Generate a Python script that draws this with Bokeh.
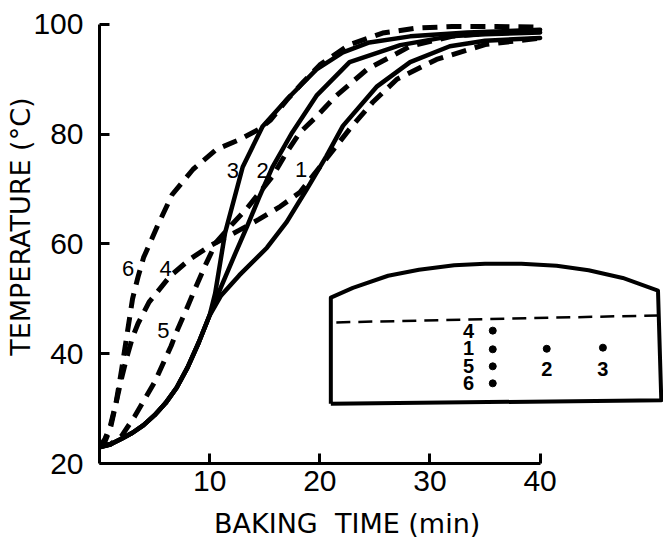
from bokeh.plotting import figure
from bokeh.models import Range1d, FixedTicker, Label
from bokeh.embed import file_html
from bokeh.resources import INLINE

# Baking time (min) and temperature (degC) at six positions in the loaf
time_1 = [0, 1, 2, 3, 4, 5, 6, 7, 8, 9, 10, 11, 12.7, 15.2, 17, 18.8, 20.6, 22.1, 25.2, 28.2, 31.8, 35, 40]
temp_1 = [23, 23.5, 24.5, 25.6, 27, 28.8, 31, 33.8, 37.5, 42, 47, 50.5, 54.3, 59.3, 64, 69.9, 76, 81.5, 88.7, 93.1, 96, 97, 97.5]

time_2 = [0, 1, 2, 3, 4, 5, 6, 7, 8, 9, 10, 11, 12.1, 13.4, 14.5, 15.7, 17.5, 19.7, 22.7, 27.3, 31.8, 35, 40]
temp_2 = [23, 23.5, 24.5, 25.6, 27, 28.8, 31, 33.8, 37.5, 42, 47, 52, 57.2, 63.2, 68.5, 74, 80.3, 87, 93.1, 96.2, 97.8, 98.2, 98.5]

time_3 = [0, 1, 2, 3, 4, 5, 6, 7, 8, 9, 10, 10.5, 11.4, 13, 14.8, 17, 19.7, 22.1, 24.5, 28.2, 33.4, 40]
temp_3 = [23, 23.5, 24.5, 25.6, 27, 28.8, 31, 33.8, 37.5, 42, 47, 51, 62, 74, 81.4, 86.3, 91.8, 94.9, 96.7, 97.8, 98.5, 99]

time_4 = [0, 0.5, 1, 1.5, 2, 2.5, 3, 3.5, 4.5, 6.4, 8.2, 10, 12.7, 14.5, 16.4, 18.2, 20, 22.7, 24.8, 27, 30.6, 35, 40]
temp_4 = [23, 24.5, 27, 31, 35.5, 39.5, 43, 45.5, 49.4, 54.1, 57.2, 59.6, 62.5, 64.5, 66.8, 69.4, 74, 80.9, 85.8, 90, 93.6, 96.3, 97.5]

time_5 = [0, 1, 2, 3.2, 5, 6.5, 7, 8, 8.5, 9.7, 10.6, 12, 13.4, 15.7, 17, 18.2, 19.5, 21.5, 24.3, 28.2, 32, 36, 40]
temp_5 = [23, 23.5, 25, 28.6, 34.8, 41.4, 44, 48.6, 51, 56.5, 60.3, 63.5, 66.5, 72.3, 76.7, 80.3, 82.8, 87, 91.8, 96, 97.8, 98.5, 98.8]

time_6 = [0, 0.5, 1, 1.5, 2, 2.5, 3, 3.5, 4, 5.2, 6.6, 8.5, 10.6, 12.7, 14.5, 15.5, 17, 18.5, 20, 22.7, 25.7, 28.8, 32, 36, 40]
temp_6 = [23, 24, 26.5, 31, 37, 43.5, 50, 54, 57.5, 63, 69, 73.6, 77.2, 79, 80.9, 82.5, 86.2, 89.5, 92.6, 96.3, 98.4, 99.3, 99.6, 99.6, 99.5]

x_ticks = [10, 20, 30, 40]
y_ticks = [20, 40, 60, 80, 100]

# curve number labels: (text, time, temperature)
curve_labels = [("3", 12.1, 73.4), ("2", 14.8, 73.4), ("1", 18.3, 73.6),
                ("6", 2.6, 55.5), ("4", 6.0, 55.5), ("5", 5.8, 44.2)]

# loaf cross-section sketch (drawn in the chart's units)
loaf_outline_x = [21.0, 21.0, 23.0, 26.2, 29.0, 32.2, 35.0, 38.3, 41.5, 44.4, 47.5, 50.7, 51.0, 21.0]
loaf_outline_y = [30.9, 50.2, 52.0, 54.2, 55.3, 56.1, 56.4, 56.4, 56.0, 55.2, 53.8, 51.5, 31.5, 30.9]
crust_line_x = [21.5, 51.3]
crust_line_y = [45.7, 47.0]
probe_x = [35.7, 35.7, 35.7, 35.7, 40.6, 45.7]
probe_y = [44.2, 40.8, 37.7, 34.6, 40.9, 41.1]
probe_labels = [("4", 33.5, 44.2), ("1", 33.5, 41.1), ("5", 33.5, 37.8),
                ("6", 33.5, 34.6), ("2", 40.6, 37.3), ("3", 45.7, 37.3)]

TICK_FONT = "Liberation Sans"
TITLE_FONT = "DejaVu Sans"
NBSP = "\u00a0"

p = figure(width=663, height=542,
           x_range=Range1d(0, 51.2), y_range=Range1d(20, 101.6),
           output_backend="svg", toolbar_location=None,
           min_border_left=99, min_border_right=0,
           min_border_top=15, min_border_bottom=79)
p.outline_line_color = None
p.xgrid.visible = False
p.ygrid.visible = False

for ax in (p.xaxis[0], p.yaxis[0]):
    ax.axis_line_width = 3
    ax.major_tick_line_width = 3
    ax.major_tick_in = 10
    ax.major_tick_out = 0
    ax.minor_tick_line_color = None
    ax.major_label_text_font = TICK_FONT
    ax.major_label_text_font_size = "30px"
    ax.major_label_text_color = "black"
    ax.axis_label_text_font = TITLE_FONT
    ax.axis_label_text_font_size = "27px"
    ax.axis_label_text_font_style = "normal"
    ax.axis_label_text_color = "black"

# axis titles sit a little off the frame centre: padded with fixed spaces
p.xaxis[0].bounds = (0, 40)
p.xaxis[0].ticker = FixedTicker(ticks=x_ticks)
p.xaxis[0].major_label_standoff = 7
p.xaxis[0].axis_label = "BAKING" + NBSP * 2 + "TIME (min)" + NBSP * 8
p.xaxis[0].axis_label_standoff = 14

p.yaxis[0].bounds = (20, 100)
p.yaxis[0].ticker = FixedTicker(ticks=y_ticks)
p.yaxis[0].major_label_standoff = 16
p.yaxis[0].axis_label = NBSP * 3 + "TEMPERATURE (\u00b0C)"
p.yaxis[0].axis_label_standoff = -6

# solid curves 1-3, dashed curves 4-6
for t, y in ((time_1, temp_1), (time_2, temp_2), (time_3, temp_3)):
    p.line(t, y, line_color="black", line_width=4.5, line_join="round", line_cap="round")
for t, y in ((time_4, temp_4), (time_5, temp_5), (time_6, temp_6)):
    p.line(t, y, line_color="black", line_width=5, line_dash="15 9", line_join="round")

for txt, x, y in curve_labels:
    p.add_layout(Label(x=x, y=y, text=txt, text_font=TICK_FONT, text_font_size="22px",
                       text_align="center", text_baseline="middle", text_color="black"))

p.line(loaf_outline_x, loaf_outline_y, line_color="black", line_width=4, line_join="round")
p.line(crust_line_x, crust_line_y, line_color="black", line_width=2.5, line_dash="14 8")
p.scatter(probe_x, probe_y, size=7, color="black")
for txt, x, y in probe_labels:
    p.add_layout(Label(x=x, y=y, text=txt, text_font=TICK_FONT, text_font_size="20px",
                       text_font_style="bold", text_align="center", text_baseline="middle",
                       text_color="black"))

open("out.html", "w").write(file_html(p, INLINE))
